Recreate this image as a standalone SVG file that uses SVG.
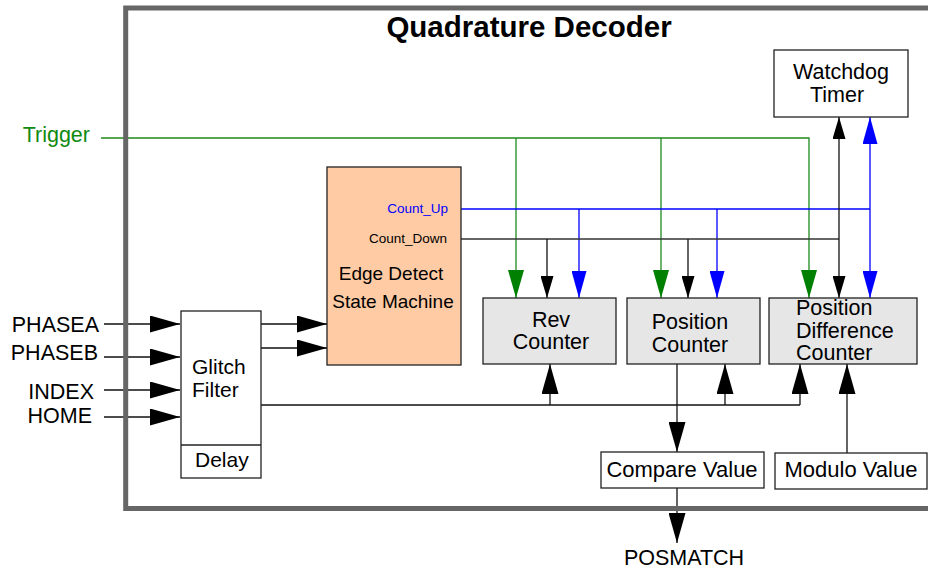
<svg xmlns="http://www.w3.org/2000/svg" width="928" height="571" viewBox="0 0 928 571">
<style>
text{font-family:"Liberation Sans",Arial,sans-serif;fill:#000}
.big{font-size:21.5px}
.lbl{font-size:19px}
.gf{font-size:21px}
.val{font-size:22px}
.sig{font-size:13.5px}
.box{stroke:#222;stroke-width:1.3}
.gray{fill:#e6e6e6}
.white{fill:#fff}
.k{stroke:#111;stroke-width:1.3;fill:none}
.g{stroke:#1e8a1e;stroke-width:1.3;fill:none}
.b{stroke:#0000ff;stroke-width:1.3;fill:none}
</style>
<defs>
<marker id="ab" markerUnits="userSpaceOnUse" markerWidth="30" markerHeight="17" refX="30" refY="8.5" orient="auto"><path d="M0,0 L30,8.5 L0,17 Z" fill="#000"/></marker>
<marker id="as" markerUnits="userSpaceOnUse" markerWidth="22" markerHeight="13" refX="22" refY="6.5" orient="auto-start-reverse"><path d="M0,0 L22,6.5 L0,13 Z" fill="#000"/></marker>
<marker id="ag" markerUnits="userSpaceOnUse" markerWidth="28" markerHeight="16" refX="28" refY="8" orient="auto"><path d="M0,0 L28,8 L0,16 Z" fill="#008000"/></marker>
<marker id="au" markerUnits="userSpaceOnUse" markerWidth="27" markerHeight="15" refX="27" refY="7.5" orient="auto-start-reverse"><path d="M0,0 L27,7.5 L0,15 Z" fill="#0000ff"/></marker>
</defs>
<rect width="928" height="571" fill="#fff"/>

<g id="connectors">
<line class="k" x1="104" y1="324" x2="180" y2="324" marker-end="url(#ab)"/>
<line class="k" x1="104" y1="357" x2="180" y2="357" marker-end="url(#ab)"/>
<line class="k" x1="104" y1="390" x2="180" y2="390" marker-end="url(#ab)"/>
<line class="k" x1="104" y1="417" x2="180" y2="417" marker-end="url(#ab)"/>
<line class="k" x1="261" y1="324" x2="327" y2="324" marker-end="url(#ab)"/>
<line class="k" x1="261" y1="348" x2="327" y2="348" marker-end="url(#ab)"/>
<polyline class="g" points="101,138 809,138 809,298" marker-end="url(#ag)"/>
<line class="g" x1="516" y1="138" x2="516" y2="298" marker-end="url(#ag)"/>
<line class="g" x1="661" y1="138" x2="661" y2="298" marker-end="url(#ag)"/>
<line class="b" x1="461" y1="209" x2="870" y2="209"/>
<line class="b" x1="579" y1="209" x2="579" y2="298" marker-end="url(#au)"/>
<line class="b" x1="717" y1="209" x2="717" y2="298" marker-end="url(#au)"/>
<line class="b" x1="870" y1="117" x2="870" y2="298" marker-start="url(#au)" marker-end="url(#au)"/>
<line class="k" x1="461" y1="239" x2="839" y2="239" style="stroke:#333"/>
<line class="k" x1="547" y1="239" x2="547" y2="298" marker-end="url(#as)"/>
<line class="k" x1="688" y1="239" x2="688" y2="298" marker-end="url(#as)"/>
<line class="k" x1="839" y1="117" x2="839" y2="298" marker-start="url(#as)" marker-end="url(#as)"/>
<line class="k" x1="261" y1="405" x2="800" y2="405"/>
<line class="k" x1="550" y1="405" x2="550" y2="364" marker-end="url(#ab)"/>
<line class="k" x1="725" y1="405" x2="725" y2="364" marker-end="url(#ab)"/>
<line class="k" x1="800" y1="405" x2="800" y2="364" marker-end="url(#ab)"/>
<line class="k" x1="677" y1="364" x2="677" y2="452" marker-end="url(#ab)"/>
<line class="k" x1="847" y1="453" x2="847" y2="364" marker-end="url(#ab)"/>
<line class="k" x1="677" y1="488" x2="677" y2="543" marker-end="url(#ab)"/>
</g>

<g id="frame">
<rect x="125.7" y="8" width="830" height="500.5" fill="none" stroke="#666" stroke-width="5"/>
<text x="529" y="37" text-anchor="middle" style="font-size:29.5px;font-weight:bold">Quadrature Decoder</text>
</g>

<g id="inputs">
<text class="big" x="99" y="332" text-anchor="end">PHASEA</text>
<text class="big" x="98" y="360" text-anchor="end">PHASEB</text>
<text class="big" x="94" y="399" text-anchor="end">INDEX</text>
<text class="big" x="92" y="423" text-anchor="end">HOME</text>
<text x="90" y="142" text-anchor="end" style="font-size:21.5px;fill:#108a10">Trigger</text>
</g>

<g id="glitch-filter">
<rect class="box white" x="181" y="311" width="80" height="167"/>
<line class="box" x1="181" y1="445" x2="261" y2="445"/>
<text class="gf" x="192" y="374">Glitch</text>
<text class="gf" x="192" y="397">Filter</text>
<text class="gf" x="195" y="467">Delay</text>
</g>

<g id="edge-detect">
<rect class="box" x="327" y="167" width="134" height="198" fill="#ffcba4"/>
<text class="sig" x="448" y="213" text-anchor="end" style="fill:#0000ff">Count_Up</text>
<text class="sig" x="447" y="243" text-anchor="end">Count_Down</text>
<text class="lbl" x="391" y="280" text-anchor="middle">Edge Detect</text>
<text class="lbl" x="393" y="308" text-anchor="middle">State Machine</text>
</g>

<g id="rev-counter">
<rect class="box gray" x="483" y="298" width="133" height="66"/>
<text class="big" x="551" y="327" text-anchor="middle">Rev</text>
<text class="big" x="551" y="349" text-anchor="middle">Counter</text>
</g>

<g id="position-counter">
<rect class="box gray" x="627" y="298" width="133" height="66"/>
<text class="big" x="690" y="329" text-anchor="middle">Position</text>
<text class="big" x="690" y="352" text-anchor="middle">Counter</text>
</g>

<g id="position-difference-counter">
<rect class="box gray" x="769" y="298" width="148" height="66"/>
<text class="big" x="796" y="315">Position</text>
<text class="big" x="796" y="338">Difference</text>
<text class="big" x="796" y="360">Counter</text>
</g>

<g id="watchdog-timer">
<rect class="box white" x="774" y="50" width="134" height="67"/>
<text class="big" x="841" y="79" text-anchor="middle">Watchdog</text>
<text class="big" x="837" y="102" text-anchor="middle">Timer</text>
</g>

<g id="compare-value">
<rect class="box white" x="601" y="452" width="163" height="36"/>
<text class="val" x="682" y="477" text-anchor="middle">Compare Value</text>
</g>

<g id="modulo-value">
<rect class="box white" x="775" y="453" width="152" height="36"/>
<text class="val" x="851" y="477" text-anchor="middle">Modulo Value</text>
</g>

<g id="posmatch">
<text class="big" x="684" y="565" text-anchor="middle">POSMATCH</text>
</g>
</svg>
